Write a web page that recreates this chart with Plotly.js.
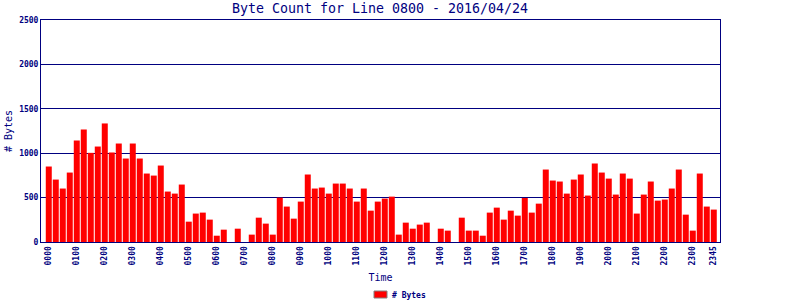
<!DOCTYPE html>
<html>
<head>
<meta charset="utf-8">
<script src="https://cdn.plot.ly/plotly-3.0.1.min.js"></script>
<style>
html,body{margin:0;padding:0;background:#fff;}
#chart{width:800px;height:300px;}
</style>
</head>
<body>
<div id="chart"></div>
<script>
// Time slots (every 15 minutes)
var hours = ['00','01','02','03','04','05','06','07','08','09','10','11','12','13','14','15','16','17','18','19','20','21','22','23'];
var minutes = ['00','15','30','45'];
var times = [];
hours.forEach(function(h){ minutes.forEach(function(m){ times.push(h + m); }); });

// Byte counts
var bytes = [
  850, 703, 602, 782,
  1143, 1267, 1004, 1075,
  1335, 1008, 1109, 940,
  1109, 940, 771, 748,
  861, 568, 545, 647,
  229, 320, 331, 252,
  71, 139, 0, 150,
  0, 83, 274, 207,
  83, 500, 399, 263,
  455, 760, 602, 613,
  545, 658, 658, 602,
  455, 602, 353, 455,
  489, 511, 83, 218,
  150, 196, 218, 0,
  150, 128, 0, 274,
  128, 128, 71, 331,
  387, 252, 353, 297,
  496, 331, 432, 816,
  692, 681, 545, 703,
  760, 523, 884, 782,
  714, 534, 771, 714,
  320, 534, 681, 466,
  478, 602, 816, 308,
  128, 771, 399, 365
];

// Tick labels shown on the x axis
var tickLabels = ['0000','0100','0200','0300','0400','0500','0600','0700','0800','0900','1000','1100',
                  '1200','1300','1400','1500','1600','1700','1800','1900','2000','2100','2200','2300','2345'];

var seriesName = '# Bytes';
var navy = '#000080';
var mono = 'DejaVu Sans Mono, Liberation Mono, monospace';

var trace = {
  type: 'bar',
  x: times,
  y: bytes,
  name: seriesName,
  marker: {color: '#ff0000', line: {width: 0}},
  showlegend: false,
  hoverinfo: 'x+y'
};

var L = 41, R = 720, T = 20, B = 242;
function px(x){ return (x - L) / (R - L); }
function py(y){ return (B - y) / (B - T); }

var layout = {
  width: 800, height: 300,
  margin: {l: L, r: 800 - R, t: T, b: 300 - B, pad: 0},
  paper_bgcolor: '#ffffff',
  plot_bgcolor: '#ffffff',
  bargap: 0.143,
  font: {family: mono, color: navy, size: 8},
  title: {
    text: 'Byte Count for Line 0800 - 2016/04/24',
    font: {family: mono, size: 13.3, color: navy},
    x: px(380), xref: 'paper', xanchor: 'center',
    y: 1 - 8/300, yref: 'container', yanchor: 'middle'
  },
  xaxis: {
    type: 'category',
    range: [-1.11, 95.89],
    tickmode: 'array',
    tickvals: tickLabels,
    ticktext: tickLabels,
    tickangle: -90,
    ticks: '',
    tickfont: {family: mono, size: 8, color: navy, weight: 'bold'},
    showgrid: false,
    showline: true, linecolor: navy, linewidth: 1, mirror: true,
    zeroline: false,
    automargin: false,
    title: {text: 'Time', font: {family: mono, size: 10, color: navy}, standoff: 9}
  },
  yaxis: {
    range: [0, 2500],
    tickmode: 'linear', tick0: 0, dtick: 500,
    ticks: '',
    tickfont: {family: mono, size: 8, color: navy, weight: 'bold'},
    showgrid: true, gridcolor: navy, gridwidth: 1,
    showline: true, linecolor: navy, linewidth: 1, mirror: true,
    zeroline: false,
    automargin: false,
    title: {text: '# Bytes', font: {family: mono, size: 10, color: navy}, standoff: 4}
  },
  shapes: [{
    type: 'rect', xref: 'paper', yref: 'paper',
    x0: px(374), x1: px(387), y0: py(298), y1: py(291),
    fillcolor: '#ff0000', line: {color: '#808080', width: 1}
  }],
  annotations: [{
    text: seriesName, showarrow: false,
    xref: 'paper', yref: 'paper',
    x: px(390), xanchor: 'left',
    y: py(295), yanchor: 'middle',
    font: {family: mono, size: 8, color: navy, weight: 'bold'}
  }]
};

Plotly.newPlot('chart', [trace], layout, {displayModeBar: false, staticPlot: true});
</script>
</body>
</html>
